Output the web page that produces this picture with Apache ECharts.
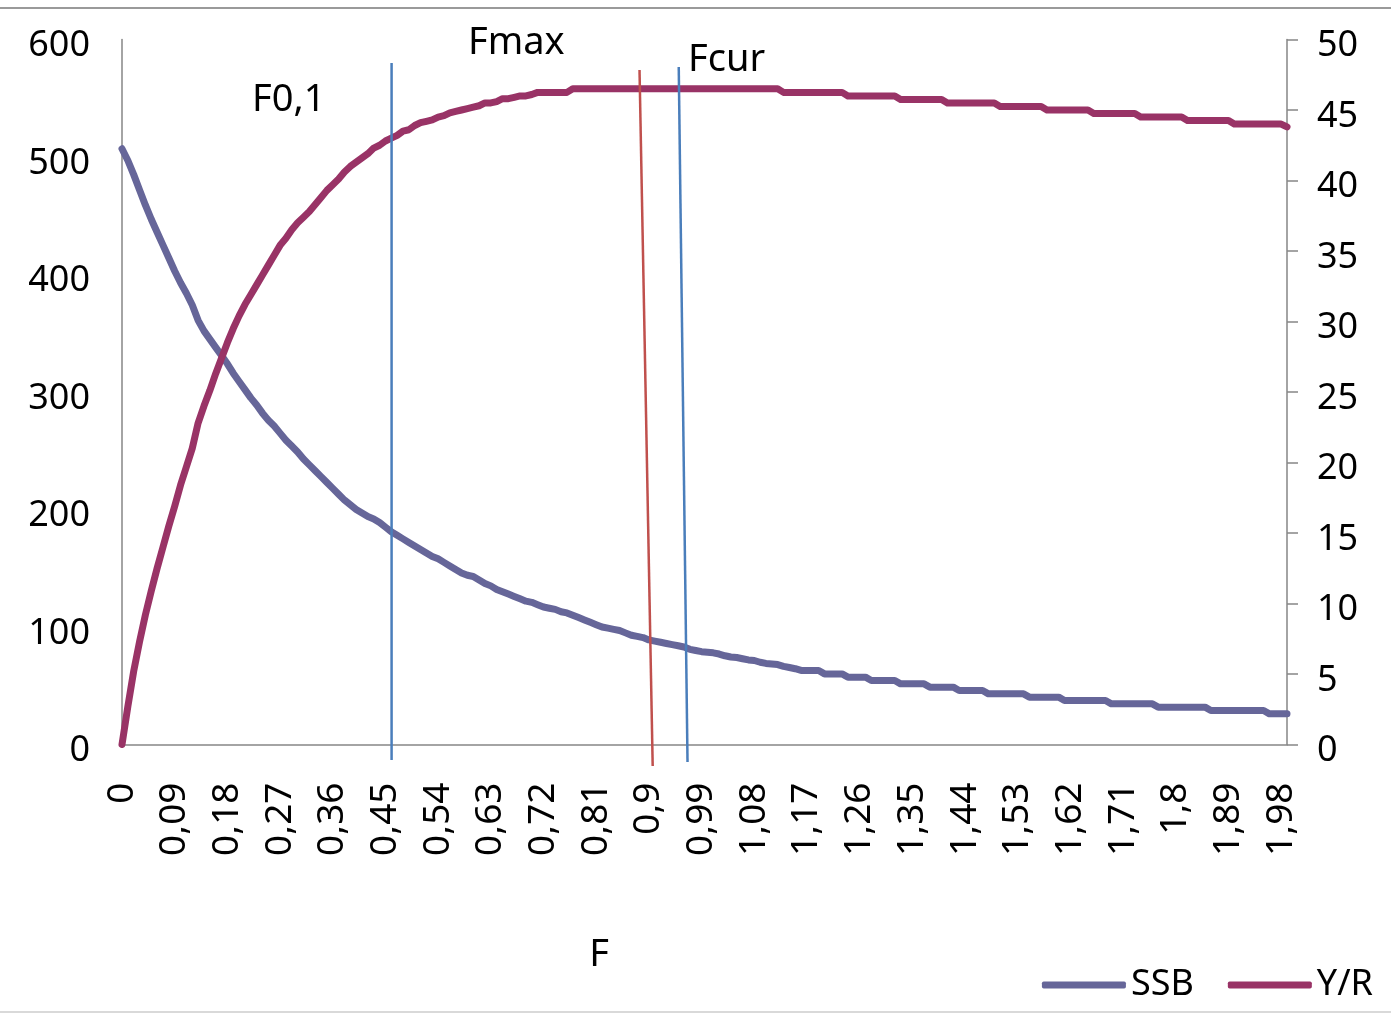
<!DOCTYPE html>
<html><head><meta charset="utf-8">
<script src="https://cdn.jsdelivr.net/npm/echarts@6/dist/echarts.min.js"></script>
<style>html,body{margin:0;padding:0;background:#fff}#c{width:1391px;height:1014px}</style>
</head><body><div id="c"></div>
<script>
const categories = ["0","0,01","0,02","0,03","0,04","0,05","0,06","0,07","0,08","0,09",
"0,1","0,11","0,12","0,13","0,14","0,15","0,16","0,17","0,18","0,19",
"0,2","0,21","0,22","0,23","0,24","0,25","0,26","0,27","0,28","0,29",
"0,3","0,31","0,32","0,33","0,34","0,35","0,36","0,37","0,38","0,39",
"0,4","0,41","0,42","0,43","0,44","0,45","0,46","0,47","0,48","0,49",
"0,5","0,51","0,52","0,53","0,54","0,55","0,56","0,57","0,58","0,59",
"0,6","0,61","0,62","0,63","0,64","0,65","0,66","0,67","0,68","0,69",
"0,7","0,71","0,72","0,73","0,74","0,75","0,76","0,77","0,78","0,79",
"0,8","0,81","0,82","0,83","0,84","0,85","0,86","0,87","0,88","0,89",
"0,9","0,91","0,92","0,93","0,94","0,95","0,96","0,97","0,98","0,99",
"1","1,01","1,02","1,03","1,04","1,05","1,06","1,07","1,08","1,09",
"1,1","1,11","1,12","1,13","1,14","1,15","1,16","1,17","1,18","1,19",
"1,2","1,21","1,22","1,23","1,24","1,25","1,26","1,27","1,28","1,29",
"1,3","1,31","1,32","1,33","1,34","1,35","1,36","1,37","1,38","1,39",
"1,4","1,41","1,42","1,43","1,44","1,45","1,46","1,47","1,48","1,49",
"1,5","1,51","1,52","1,53","1,54","1,55","1,56","1,57","1,58","1,59",
"1,6","1,61","1,62","1,63","1,64","1,65","1,66","1,67","1,68","1,69",
"1,7","1,71","1,72","1,73","1,74","1,75","1,76","1,77","1,78","1,79",
"1,8","1,81","1,82","1,83","1,84","1,85","1,86","1,87","1,88","1,89",
"1,9","1,91","1,92","1,93","1,94","1,95","1,96","1,97","1,98","1,99"];

const ssb = [507,497,485,472,459,447,436,425,414,403,
393,384,374,361,352,345,338,331,324,316,
309,302,295,289,282,276,271,265,259,254,
249,243,238,233,228,223,218,213,208,204,
200,197,194,192,189,185,181,178,175,172,
169,166,163,160,158,155,152,149,146,144,
143,140,137,135,132,130,128,126,124,122,
121,119,117,116,115,113,112,110,108,106,
104,102,100,99,98,97,95,93,92,91,
89,88,87,86,85,84,83,81,80,79,
78.5,78,77,75.5,74.5,74,73,72,71.5,70,
69,68.5,68,66.5,65.5,64.5,63,63,63,63,
60.1,60.1,60.1,60.1,57.3,57.3,57.3,57.3,54.5,54.5,
54.5,54.5,54.5,51.6,51.6,51.6,51.6,51.6,48.8,48.8,
48.8,48.8,48.8,46,46,46,46,46,43.1,43.1,
43.1,43.1,43.1,43.1,43.1,40.3,40.3,40.3,40.3,40.3,
40.3,37.4,37.4,37.4,37.4,37.4,37.4,37.4,37.4,34.6,
34.6,34.6,34.6,34.6,34.6,34.6,34.6,31.8,31.8,31.8,
31.8,31.8,31.8,31.8,31.8,31.8,28.9,28.9,28.9,28.9,
28.9,28.9,28.9,28.9,28.9,28.9,26.1,26.1,26.1,26.1];

const yieldPerRecruit = [0,2.7,5.2,7.3,9.2,10.9,12.5,14.0,15.5,16.9,
18.4,19.7,21.0,22.8,24.0,25.1,26.3,27.4,28.5,29.5,
30.4,31.2,31.9,32.6,33.3,34.0,34.7,35.4,35.9,36.5,
37.0,37.4,37.8,38.3,38.8,39.3,39.7,40.1,40.6,41.0,
41.3,41.6,41.9,42.3,42.5,42.8,43.0,43.2,43.5,43.6,
43.9,44.1,44.2,44.3,44.5,44.6,44.8,44.9,45.0,45.1,
45.2,45.3,45.5,45.5,45.6,45.8,45.8,45.9,46.0,46.0,
46.1,46.25,46.25,46.25,46.25,46.25,46.25,46.5,46.5,46.5,
46.5,46.5,46.5,46.5,46.5,46.5,46.5,46.5,46.5,46.5,
46.5,46.5,46.5,46.5,46.5,46.5,46.5,46.5,46.5,46.5,
46.5,46.5,46.5,46.5,46.5,46.5,46.5,46.5,46.5,46.5,
46.5,46.5,46.5,46.25,46.25,46.25,46.25,46.25,46.25,46.25,
46.25,46.25,46.25,46.25,46.0,46.0,46.0,46.0,46.0,46.0,
46.0,46.0,46.0,45.75,45.75,45.75,45.75,45.75,45.75,45.75,
45.75,45.5,45.5,45.5,45.5,45.5,45.5,45.5,45.5,45.5,
45.25,45.25,45.25,45.25,45.25,45.25,45.25,45.25,45.0,45.0,
45.0,45.0,45.0,45.0,45.0,45.0,44.75,44.75,44.75,44.75,
44.75,44.75,44.75,44.75,44.5,44.5,44.5,44.5,44.5,44.5,
44.5,44.5,44.25,44.25,44.25,44.25,44.25,44.25,44.25,44.25,
44.0,44.0,44.0,44.0,44.0,44.0,44.0,44.0,44.0,43.8];

// reference lines drawn on the chart: [x1, y1, x2, y2] in (category index, left-axis value)
const refLineF01 = [46.05, 580, 46.05, -13.2];
const refLineFmax = [88.4, 574, 90.65, -18.3];
const refLineFcur = [95.1, 576.6, 96.6, -14.9];
const refLineColors = ['#4A7EBB', '#C0504D', '#4A7EBB'];

const FONT = "'Noto Sans', sans-serif";
const AXIS_GRAY = '#868686';

const chart = echarts.init(document.getElementById('c'), null, {renderer: 'canvas'});
chart.setOption({
  animation: false,
  backgroundColor: '#ffffff',
  grid: {left: 122, right: 104, top: 39.5, bottom: 269.5},
  legend: {
    data: ['SSB', 'Y/R'],
    right: 13, top: 962,
    itemWidth: 84, itemHeight: 7, itemGap: 34,
    icon: 'roundRect',
    textStyle: {fontSize: 36, fontFamily: FONT, color: '#000'}
  },
  xAxis: [{
    type: 'category',
    data: categories,
    boundaryGap: false,
    axisLine: {show: true, lineStyle: {color: AXIS_GRAY, width: 1.5}},
    axisTick: {show: false},
    splitLine: {show: false},
    axisLabel: {interval: 8, rotate: 90, margin: 38, fontSize: 37, fontFamily: FONT, color: '#000'}
  }, {
    type: 'value', min: 0, max: 199, show: false
  }],
  yAxis: [{
    type: 'value', min: 0, max: 600, interval: 100,
    axisLine: {show: true, lineStyle: {color: AXIS_GRAY, width: 1.5}},
    axisTick: {show: false},
    splitLine: {show: false},
    axisLabel: {margin: 32, fontSize: 36, fontFamily: FONT, color: '#000', verticalAlign: 'top', lineHeight: 13}
  }, {
    type: 'value', min: 0, max: 50, interval: 5, position: 'right',
    axisLine: {show: true, lineStyle: {color: AXIS_GRAY, width: 1.5}},
    axisTick: {show: true, length: 11, lineStyle: {color: AXIS_GRAY, width: 1.5}},
    splitLine: {show: false},
    axisLabel: {margin: 30, fontSize: 36, fontFamily: FONT, color: '#000', verticalAlign: 'top', lineHeight: 13}
  }],
  series: [{
    name: 'SSB', type: 'line', data: ssb, yAxisIndex: 0,
    showSymbol: false, symbol: 'none', color: '#666699',
    lineStyle: {width: 7, color: '#666699', cap: 'round', join: 'round'}, z: 2
  }, {
    name: 'Y/R', type: 'line', data: yieldPerRecruit, yAxisIndex: 1,
    showSymbol: false, symbol: 'none', color: '#993366',
    lineStyle: {width: 7, color: '#993366', cap: 'round', join: 'round'}, z: 3
  }, {
    name: 'refs', type: 'custom', xAxisIndex: 1, yAxisIndex: 0, z: 10, clip: false, silent: true,
    data: [refLineF01.concat([0]), refLineFmax.concat([1]), refLineFcur.concat([2])],
    encode: {x: [0, 2], y: [1, 3]},
    renderItem: function (params, api) {
      const p1 = api.coord([api.value(0), api.value(1)]);
      const p2 = api.coord([api.value(2), api.value(3)]);
      return {type: 'line', shape: {x1: p1[0], y1: p1[1], x2: p2[0], y2: p2[1]},
        style: {stroke: refLineColors[api.value(4)], lineWidth: 2.5}};
    }
  }],
  graphic: [
    {type: 'rect', shape: {x: 0, y: 7, width: 1391, height: 2}, style: {fill: '#9a9a9a'}, silent: true},
    {type: 'rect', shape: {x: 0, y: 1011, width: 1391, height: 2}, style: {fill: '#d9d9d9'}, silent: true},
    {type: 'text', x: 252, y: 100, style: {text: 'F0,1', fontSize: 38, fontFamily: FONT, fill: '#000', verticalAlign: 'middle'}},
    {type: 'text', x: 468, y: 43, style: {text: 'Fmax', fontSize: 38, fontFamily: FONT, fill: '#000', verticalAlign: 'middle'}},
    {type: 'text', x: 688, y: 60, style: {text: 'Fcur', fontSize: 38, fontFamily: FONT, fill: '#000', verticalAlign: 'middle'}},
    {type: 'text', x: 599, y: 955, style: {text: 'F', fontSize: 38, fontFamily: FONT, fill: '#000', verticalAlign: 'middle', align: 'center'}}
  ]
});
</script>
</body></html>
